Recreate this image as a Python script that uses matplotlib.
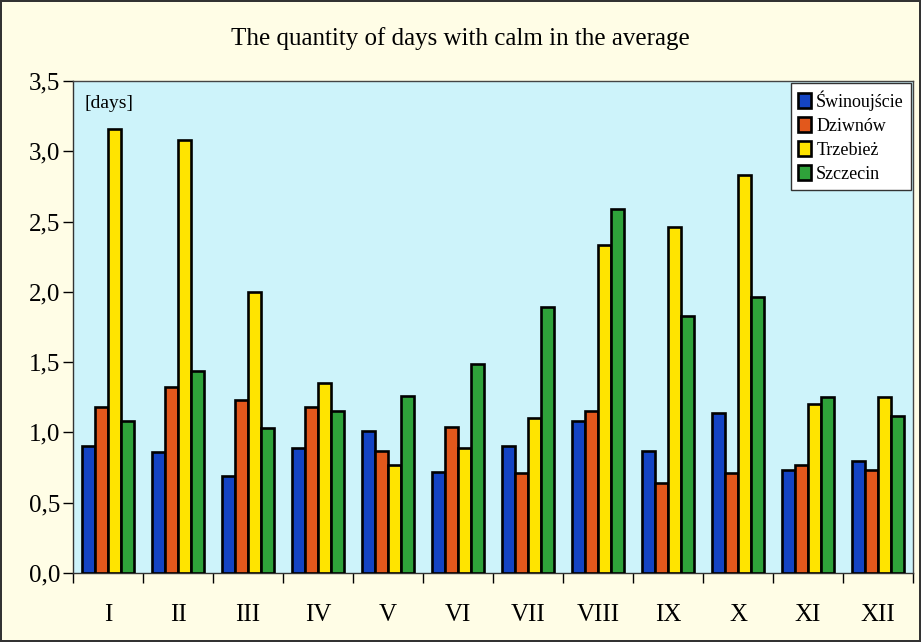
import numpy as np
import matplotlib
matplotlib.use('Agg')
import matplotlib.pyplot as plt
from matplotlib.ticker import FixedLocator, FuncFormatter

months = ['I', 'II', 'III', 'IV', 'V', 'VI', 'VII', 'VIII', 'IX', 'X', 'XI', 'XII']
stations = ['Świnoujście', 'Dziwnów', 'Trzebież', 'Szczecin']

swinoujscie = [0.90, 0.86, 0.69, 0.89, 1.01, 0.72, 0.90, 1.08, 0.87, 1.14, 0.73, 0.80]
dziwnow     = [1.18, 1.32, 1.23, 1.18, 0.87, 1.04, 0.71, 1.15, 0.64, 0.71, 0.77, 0.73]
trzebiez    = [3.16, 3.08, 2.00, 1.35, 0.77, 0.89, 1.10, 2.33, 2.46, 2.83, 1.20, 1.25]
szczecin    = [1.08, 1.44, 1.03, 1.15, 1.26, 1.49, 1.89, 2.59, 1.83, 1.96, 1.25, 1.12]

series = [swinoujscie, dziwnow, trzebiez, szczecin]
colors = ['#1444c4', '#e2581c', '#ffe400', '#2fa23a']

plt.rcParams['font.family'] = ['Liberation Serif', 'DejaVu Serif']

fig = plt.figure(figsize=(9.21, 6.42), dpi=100)
fig.patch.set_facecolor('#fffde6')
fig.patch.set_edgecolor('#333333')
fig.patch.set_linewidth(1.5)

ax = fig.add_axes([0.0793, 0.1075, 0.912, 0.7663])
ax.set_facecolor('#cdf3fa')

x = np.arange(len(months))
bar_w = 0.185
for i, (vals, col, name) in enumerate(zip(series, colors, stations)):
    offs = (i - 1.5) * bar_w
    ax.bar(x + offs, vals, width=bar_w, color=col, edgecolor='black',
           linewidth=1.9, label=name, zorder=3)

ax.set_xlim(-0.5, len(months) - 0.5)
ax.set_ylim(0, 3.5)

ax.set_yticks(np.arange(0, 3.51, 0.5))
ax.yaxis.set_major_formatter(FuncFormatter(lambda v, p: ('%.1f' % v).replace('.', ',')))
ax.tick_params(axis='y', direction='out', length=7, width=1, labelsize=18, pad=2)

ax.set_xticks(x)
ax.set_xticklabels(months)
ax.xaxis.set_minor_locator(FixedLocator(np.arange(-0.5, len(months), 1.0)))
ax.tick_params(axis='x', which='major', length=0, labelsize=18, pad=22)
ax.tick_params(axis='x', which='minor', direction='out', length=7, width=1)

for side in ['top', 'right']:
    ax.spines[side].set_color('#444444')
    ax.spines[side].set_linewidth(1.0)
for side in ['left', 'bottom']:
    ax.spines[side].set_color('#333333')
    ax.spines[side].set_linewidth(1.0)

ax.text(0.014, 0.972, '[days]', transform=ax.transAxes, fontsize=14,
        va='top', ha='left')

fig.text(0.5, 0.94, 'The quantity of days with calm in the average',
         ha='center', va='center', fontsize=18)

leg = ax.legend(loc='upper right', bbox_to_anchor=(1.0, 1.0), fontsize=13,
                frameon=True, fancybox=False, handlelength=0.7, handleheight=0.9,
                handletextpad=0.3, borderaxespad=0.1, labelspacing=0.35,
                borderpad=0.4)
leg.get_frame().set_edgecolor('#333333')
leg.get_frame().set_facecolor('white')
leg.get_frame().set_alpha(1)
leg.get_frame().set_linewidth(1.0)

fig.savefig('out.png', dpi=100, facecolor=fig.get_facecolor(), edgecolor=fig.get_edgecolor())
